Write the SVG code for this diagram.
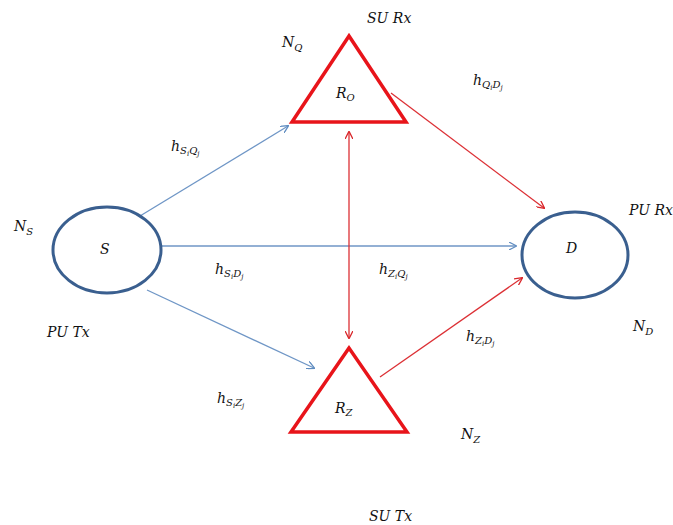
<svg xmlns="http://www.w3.org/2000/svg" width="673" height="525" viewBox="0 0 673 525">
<defs>
<marker id="ab" viewBox="0 0 10 10" refX="9" refY="5" markerWidth="8" markerHeight="8" orient="auto-start-reverse" markerUnits="userSpaceOnUse"><path d="M0,0 L10,5 L0,10" fill="none" stroke="#5f8cc0" stroke-width="1.6"/></marker>
<marker id="ar" viewBox="0 0 10 10" refX="9" refY="5" markerWidth="8" markerHeight="8" orient="auto-start-reverse" markerUnits="userSpaceOnUse"><path d="M0,0 L10,5 L0,10" fill="none" stroke="#d9262a" stroke-width="1.6"/></marker>
</defs>
<style>
.t{font-family:"DejaVu Serif","Liberation Serif",serif;font-style:italic;font-size:14px;fill:#111}
.s{font-size:10px}
.ss{font-size:7px}
.ell{fill:#fff;stroke:#3a5f8f;stroke-width:3}
.tri{fill:#fff;stroke:#e8141a;stroke-width:3.5;stroke-linejoin:miter}
.bl{stroke:#6f96c6;stroke-width:1.3;fill:none}
.rd{stroke:#dc3035;stroke-width:1.3;fill:none}
</style>
<rect width="673" height="525" fill="#fff"/>
<g id="connectors">
<line class="bl" x1="140" y1="216" x2="288" y2="126" marker-end="url(#ab)"/>
<line class="bl" x1="161" y1="246" x2="516" y2="246" marker-end="url(#ab)"/>
<line class="bl" x1="147" y1="290" x2="314" y2="368" marker-end="url(#ab)"/>
<line class="rd" x1="391" y1="93" x2="544" y2="208" marker-end="url(#ar)"/>
<line class="rd" x1="380" y1="377" x2="522" y2="278" marker-end="url(#ar)"/>
<line class="rd" x1="349" y1="132" x2="349" y2="338" marker-start="url(#ar)" marker-end="url(#ar)"/>
</g>
<g id="node-S">
<ellipse class="ell" cx="107" cy="250" rx="54" ry="43"/>
<text class="t" x="100" y="254">S</text>
</g>
<g id="node-D">
<ellipse class="ell" cx="575" cy="255" rx="53" ry="43"/>
<text class="t" x="566" y="253">D</text>
</g>
<g id="node-RQ">
<polygon class="tri" points="349,36 292,122 406,122"/>
<text class="t" x="336" y="98">R<tspan class="s" dy="3">O</tspan></text>
</g>
<g id="node-RZ">
<polygon class="tri" points="349,348 291,432 407,432"/>
<text class="t" x="335" y="413">R<tspan class="s" dy="3">Z</tspan></text>
</g>
<g id="labels">
<text class="t" x="14" y="231">N<tspan class="s" dy="4">S</tspan></text>
<text class="t" x="47" y="337">PU Tx</text>
<text class="t" x="282" y="47">N<tspan class="s" dy="4">Q</tspan></text>
<text class="t" x="367" y="23">SU Rx</text>
<text class="t" x="473" y="85">h<tspan class="s" dy="3">Q</tspan><tspan class="ss" dy="2">i</tspan><tspan class="s" dy="-2">D</tspan><tspan class="ss" dy="2">j</tspan></text>
<text class="t" x="171" y="151">h<tspan class="s" dy="3">S</tspan><tspan class="ss" dy="2">i</tspan><tspan class="s" dy="-2">Q</tspan><tspan class="ss" dy="2">j</tspan></text>
<text class="t" x="215" y="274">h<tspan class="s" dy="3">S</tspan><tspan class="ss" dy="2">i</tspan><tspan class="s" dy="-2">D</tspan><tspan class="ss" dy="2">j</tspan></text>
<text class="t" x="379" y="274">h<tspan class="s" dy="3">Z</tspan><tspan class="ss" dy="2">i</tspan><tspan class="s" dy="-2">Q</tspan><tspan class="ss" dy="2">j</tspan></text>
<text class="t" x="629" y="215">PU Rx</text>
<text class="t" x="633" y="331">N<tspan class="s" dy="4">D</tspan></text>
<text class="t" x="466" y="341">h<tspan class="s" dy="3">Z</tspan><tspan class="ss" dy="2">i</tspan><tspan class="s" dy="-2">D</tspan><tspan class="ss" dy="2">j</tspan></text>
<text class="t" x="217" y="403">h<tspan class="s" dy="3">S</tspan><tspan class="ss" dy="2">i</tspan><tspan class="s" dy="-2">Z</tspan><tspan class="ss" dy="2">j</tspan></text>
<text class="t" x="461" y="439">N<tspan class="s" dy="4">Z</tspan></text>
<text class="t" x="369" y="521">SU Tx</text>
</g>
</svg>
